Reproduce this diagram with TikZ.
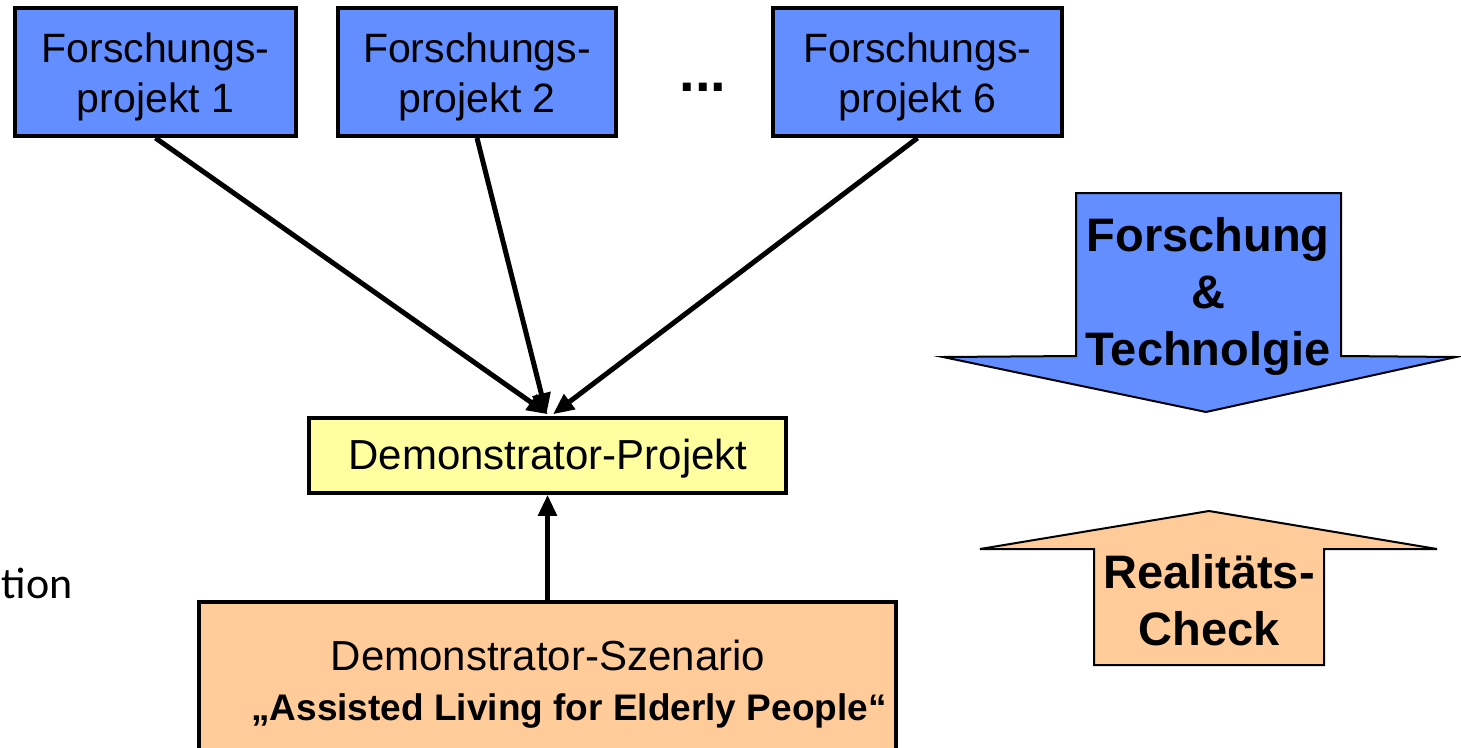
\documentclass[tikz,border=0pt]{standalone}
\usepackage{fontspec}
\setmainfont{Liberation Sans}
\newfontfamily\calfont{Carlito}
\usetikzlibrary{arrows.meta}
\definecolor{fblue}{RGB}{98,142,255}
\definecolor{fyellow}{RGB}{255,255,160}
\definecolor{fpeach}{RGB}{255,204,153}
\tikzset{
  projbox/.style={draw=black, line width=4pt, fill=fblue, inner sep=0pt, minimum height=128pt},
  projtext/.style={align=center, inner sep=0pt, font=\fontsize{41}{50}\selectfont},
  demobox/.style={draw=black, line width=3.5pt, fill=fyellow, inner sep=0pt,
    minimum width=477pt, minimum height=75pt},
  scenbox/.style={draw=black, line width=4pt, fill=fpeach, inner sep=0pt},
  conn/.style={line width=5pt, -{Triangle[length=21pt,width=18pt]}},
  bigarrow/.style={draw=black, line width=2pt, line join=miter},
  bigtext/.style={font=\fontsize{47}{57}\selectfont\bfseries, align=center, inner sep=0pt}
}
\begin{document}
\begin{tikzpicture}[x=1pt,y=-1pt]
\useasboundingbox (0,0) rectangle (1461,747);
\clip (0,0) rectangle (1461,747);
% top boxes
\node[projbox, minimum width=281pt] (p1) at (155.5,72) {};
\node[projtext] (p1t) at (155.5,77) {Forschungs-\\projekt 1};
\node[projbox, minimum width=278pt] (p2) at (477,72) {};
\node[projtext] (p2t) at (477,77) {Forschungs-\\projekt 2};
\node[projbox, minimum width=289pt] (p6) at (917.5,72) {};
\node[projtext] (p6t) at (917.5,77) {Forschungs-\\projekt 6};
\node[font=\fontsize{56}{60}\selectfont\bfseries, inner sep=0pt] (dots) at (703,87) {...};
% demonstrator project
\node[demobox] (demo) at (547.5,455.5) {};
\node[inner sep=0pt, font=\fontsize{42}{50}\selectfont] (demot) at (548,459) {Demonstrator-Projekt};
% scenario box
\node[scenbox, anchor=north, minimum width=697pt, minimum height=200pt] (scen) at (547.5,600) {};
\node[font=\fontsize{42}{50}\selectfont, inner sep=0pt] (scen1) at (548,655) {Demonstrator-Szenario};
\node[font=\fontsize{37}{44}\selectfont\bfseries, inner sep=0pt] (scen2) at (569,711) {„Assisted Living for Elderly People“};
% left cut-off text
\node[font=\calfont\fontsize{44}{50}\selectfont, anchor=base east, inner sep=0pt] (tion) at (73,598) {tion};
% connectors
\draw[conn] (p1.south) -- ([xshift=0.5pt,yshift=2pt]demo.north);
\draw[conn] (p2.south) -- ([xshift=-1pt,yshift=2pt]demo.north);
\draw[conn] (p6.south) -- ([xshift=5.5pt,yshift=2pt]demo.north);
\draw[conn] (scen.north) -- (demo.south);
% big blue arrow (down)
\draw[bigarrow, fill=fblue] (1076,193) -- (1341,193) -- (1341,356) -- (1456,357)
  -- (1206,412) -- (943,357) -- (1076,356) -- cycle;
\node[bigtext] (ft) at (1208,296) {Forschung\\\&\\Technolgie};
% big peach arrow (up)
\draw[bigarrow, fill=fpeach] (1094,665) -- (1094,549) -- (980,549) -- (1209,511)
  -- (1437,549) -- (1324,549) -- (1324,665) -- cycle;
\node[bigtext] (rc) at (1209,600) {Realitäts-\\Check};
\end{tikzpicture}
\end{document}
